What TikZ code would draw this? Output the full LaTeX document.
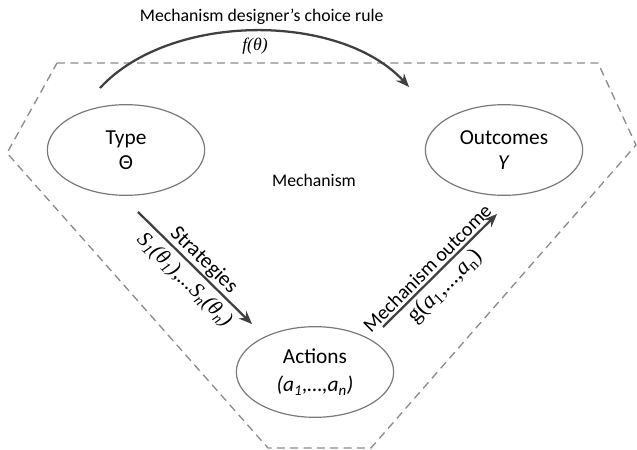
\documentclass[tikz,border=0pt]{standalone}
\usepackage{fontspec}
\setmainfont{Carlito}
\newfontfamily\tnr{Liberation Serif}
\usepackage{xcolor}
\usetikzlibrary{arrows.meta,shapes.geometric}

\definecolor{edgegray}{HTML}{404040}
\definecolor{rimgray}{HTML}{7A7A7A}
\definecolor{dashgray}{HTML}{8C8C8C}

\begin{document}
\begin{tikzpicture}[->,>={Stealth[length=10pt,width=8pt]},shorten >=1pt,x=0.75pt,y=-0.75pt,
        font=\fontsize{13.3}{19}\selectfont,
        bubble/.style={ellipse,draw=rimgray,line width=0.9pt,inner sep=0pt,
            minimum width=118pt,minimum height=68pt,align=center,
            font=\fontsize{16}{19}\selectfont},
        flow/.style={draw=edgegray,line width=1.7pt},
        biglabel/.style={font=\fontsize{16}{19}\selectfont}]

    \useasboundingbox (0,0) rectangle (637,450);

    % mechanism boundary
    \draw[-,dashgray,line width=1pt,dash pattern=on 6pt off 4pt]
        (57,63) -- (598,63) -- (636,145) -- (371,448) -- (268,448) -- (7,153) -- cycle;

    \node[bubble] (type) at (126,150) {Type\\Θ};
    \node[bubble] (outcomes) at (504,150) {Outcomes\\\textit{Y}};
    \node[bubble] (actions) at (315,372) {Actions\\[2pt]\textit{(a\textsubscript{1},…,a\textsubscript{n})}};
    \node (mech) at (314,180) {Mechanism};

    \coordinate (f0) at (100,88);
    \coordinate (f1) at (410,88);
    \coordinate (s0) at (138,212);
    \coordinate (s1) at (253,325);
    \coordinate (g0) at (383,327);
    \coordinate (g1) at (498,213);

    \draw[flow] (f0) .. controls (170,12) and (340,12) .. (f1)
        node[pos=0.5,above=1pt,xshift=5pt] {Mechanism designer’s choice rule}
        node[pos=0.5,below=1pt] {\tnr\itshape f(θ)};
    \draw[flow] (s0) -- (s1)
        node[midway,sloped,above,inner sep=1pt,biglabel] {Strategies}
        node[midway,sloped,below,inner sep=4pt,biglabel] {\tnr\itshape S\textsubscript{1}(θ\textsubscript{1}),...S\textsubscript{n}(θ\textsubscript{n})};
    \draw[flow] (g0) -- (g1)
        node[pos=0.45,sloped,above,inner sep=2pt,font=\fontsize{15}{18}\selectfont] {Mechanism outcome}
        node[pos=0.45,sloped,below,inner sep=3pt,font=\fontsize{17}{20}\selectfont] {\tnr g(\textit{a}\textsubscript{1},...,\textit{a}\textsubscript{n})};

\end{tikzpicture}
\end{document}
